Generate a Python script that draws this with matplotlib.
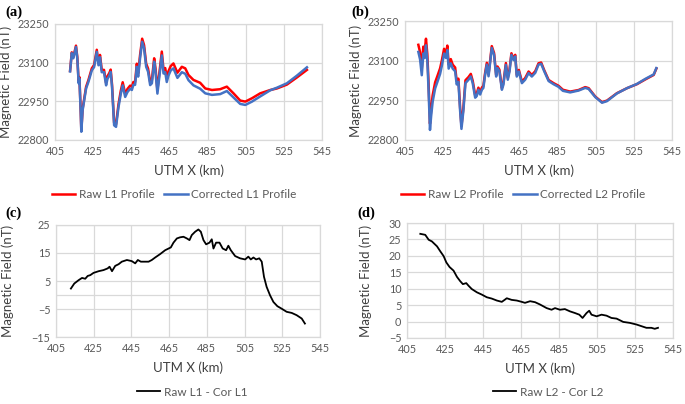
import matplotlib
matplotlib.use("Agg")
import matplotlib.pyplot as plt
from matplotlib.lines import Line2D

# ---------------- data ----------------
x_a = [412.9, 413.8, 414.6, 416.0, 416.7, 417.4, 417.8, 418.5, 418.8, 419.5, 421.3, 422.5, 424.3, 425.5,
       426.9, 427.8, 428.6, 429.5, 430.7, 431.8, 432.5, 433.5, 434.2, 434.9, 436.0, 437.0, 438.3, 439.5,
       440.5, 441.8, 443.0, 444.4, 445.3, 446.1, 447.0, 447.9, 448.6, 449.6, 450.7, 451.7, 452.8, 453.8,
       454.9, 455.8, 457.0, 457.7, 458.7, 459.8, 461.0, 461.9, 462.8, 463.6, 464.5, 465.7, 467.1, 469.2,
       471.5, 473.3, 475.0, 477.6, 481.1, 483.8, 487.3, 491.6, 495.1, 498.6, 502.1, 504.8, 508.3, 512.6,
       517.9, 521.4, 526.6, 531.9, 537.1]
raw_l1 = [23068, 23140, 23121, 23166, 23121, 23025, 23044, 22908, 22838, 22922, 23006, 23032, 23078, 23091,
          23150, 23098, 23130, 23072, 23072, 23021, 23047, 23060, 23073, 23015, 22867, 22861, 22939, 22991,
          23024, 22979, 22998, 23011, 23006, 23025, 23025, 23096, 23058, 23129, 23193, 23168, 23096, 23077,
          23025, 23032, 23117, 23078, 22994, 23065, 23143, 23073, 23079, 23041, 23067, 23087, 23097, 23061,
          23084, 23078, 23052, 23033, 23022, 23000, 22994, 22997, 23007, 22981, 22953, 22949, 22962, 22981,
          22994, 23000, 23015, 23043, 23072]
cor_l1 = [23066, 23137, 23117, 23161, 23116, 23020, 23038, 22902, 22832, 22916, 23000, 23025, 23070, 23083,
          23142, 23090, 23121, 23063, 23063, 23012, 23037, 23050, 23064, 23006, 22857, 22851, 22928, 22979,
          23012, 22967, 22986, 22999, 22994, 23014, 23014, 23084, 23046, 23117, 23181, 23156, 23084, 23065,
          23013, 23020, 23104, 23065, 22980, 23051, 23128, 23058, 23063, 23025, 23050, 23070, 23078, 23041,
          23063, 23057, 23032, 23012, 22999, 22981, 22975, 22978, 22990, 22965, 22940, 22936, 22949, 22969,
          22993, 23003, 23020, 23050, 23082]

x_b = [412.0, 412.9, 413.8, 414.6, 415.3, 416.0, 416.7, 417.3, 418.1, 418.7, 419.5, 420.8, 422.0, 423.4,
       424.3, 425.5, 426.5, 427.2, 427.9, 429.0, 430.0, 431.3, 432.1, 433.0, 433.9, 434.6, 435.6, 436.7,
       438.3, 439.5, 440.5, 441.8, 442.6, 443.5, 444.4, 445.3, 446.1, 447.0, 447.9, 448.8, 449.6, 450.5,
       451.7, 452.8, 453.5, 454.5, 455.8, 456.6, 457.9, 458.9, 459.8, 460.8, 461.9, 462.8, 463.6, 464.7,
       466.3, 468.0, 469.8, 471.5, 473.3, 475.0, 476.4, 478.0, 480.3, 482.9, 485.5, 487.8, 491.6, 496.0,
       499.5, 501.3, 504.8, 508.3, 510.9, 516.1, 521.4, 526.6, 531.0, 535.4, 536.8]
raw_l2 = [23160, 23132, 23071, 23153, 23136, 23183, 23125, 23025, 22862, 22914, 22969, 23018, 23042, 23071,
          23100, 23145, 23127, 23157, 23086, 23106, 23085, 23074, 23023, 23032, 22922, 22853, 22921, 23026,
          23038, 23050, 23024, 22969, 22975, 22998, 22980, 22998, 23005, 23053, 23092, 23048, 23097, 23155,
          23129, 23046, 23078, 23066, 22996, 23016, 23091, 23035, 23066, 23128, 23108, 23122, 23046, 23065,
          23021, 23034, 23059, 23046, 23060, 23090, 23093, 23064, 23027, 23015, 23005, 22990, 22983, 22989,
          23000, 22996, 22964, 22943, 22949, 22977, 22996, 23011, 23029, 23046, 23070]
cor_l2 = [23133, 23105, 23045, 23127, 23110, 23158, 23100, 23000, 22838, 22890, 22945, 22995, 23020, 23050,
          23080, 23127, 23110, 23140, 23070, 23090, 23070, 23060, 23010, 23020, 22910, 22842, 22910, 23015,
          23028, 23040, 23015, 22960, 22966, 22990, 22972, 22990, 22997, 23046, 23085, 23041, 23090, 23148,
          23122, 23040, 23072, 23060, 22990, 23009, 23084, 23028, 23059, 23122, 23102, 23116, 23040, 23059,
          23015, 23028, 23053, 23040, 23054, 23085, 23088, 23060, 23023, 23011, 23001, 22986, 22980, 22987,
          22997, 22993, 22962, 22941, 22947, 22976, 22996, 23012, 23031, 23048, 23072]

x_c = [412.9, 414.7, 417.0, 418.8, 420.5, 421.8, 423.2, 424.9, 427.6, 430.2, 432.4, 433.4, 434.7, 436.4,
       438.2, 439.9, 442.6, 445.2, 447.0, 448.4, 450.0, 452.3, 454.1, 455.8, 457.6, 460.2, 462.9, 464.7,
       465.9, 467.3, 469.1, 470.8, 472.6, 474.4, 475.8, 477.0, 478.8, 480.5, 481.8, 483.2, 484.6, 486.4,
       487.6, 488.5, 489.9, 491.7, 493.4, 495.2, 496.4, 497.7, 500.0, 502.6, 505.3, 507.0, 508.3, 509.7,
       511.1, 512.8, 514.1, 515.3, 516.7, 518.5, 520.3, 522.4, 524.7, 527.3, 530.0, 532.6, 535.3, 537.0]
diff_l1 = [2.3, 4.1, 5.3, 6.1, 5.8, 6.8, 7.1, 7.9, 8.5, 8.9, 9.5, 10.1, 8.5, 10.4,
           11.0, 11.9, 12.5, 12.1, 11.3, 12.5, 11.9, 11.9, 11.9, 12.5, 13.4, 14.6, 16.0, 16.6,
           17.0, 18.7, 20.2, 20.6, 20.8, 20.2, 19.6, 21.4, 22.6, 23.4, 22.6, 19.6, 18.1, 18.7,
           19.9, 16.6, 18.7, 18.7, 16.6, 16.0, 17.6, 16.0, 13.9, 13.1, 12.7, 13.7, 12.7, 13.4,
           12.7, 13.1, 11.9, 6.5, 2.9, -0.1, -2.5, -4.0, -4.9, -6.0, -6.4, -7.2, -8.4, -10.2]

x_d = [412.0, 414.6, 416.4, 418.1, 420.8, 422.5, 424.3, 425.7, 427.4, 429.5, 431.3, 433.0, 434.4, 436.2,
       437.4, 439.1, 441.8, 444.4, 447.0, 449.6, 452.3, 454.9, 456.6, 457.5, 460.1, 462.8, 465.4, 467.1,
       469.8, 472.4, 475.0, 478.5, 481.1, 482.9, 485.5, 488.1, 490.8, 493.4, 495.7, 497.4, 499.5, 500.9,
       502.1, 504.8, 507.4, 510.0, 512.6, 515.3, 518.8, 522.3, 525.8, 528.4, 531.0, 533.6, 535.4, 537.1]
diff_l2 = [26.7, 26.4, 24.9, 24.4, 22.9, 21.4, 19.9, 18.0, 16.6, 15.5, 13.6, 12.3, 11.4, 11.7,
           10.9, 9.9, 8.9, 8.2, 7.4, 7.0, 6.4, 6.0, 6.7, 7.1, 6.6, 6.4, 6.0, 5.7,
           6.2, 5.9, 5.2, 4.1, 3.6, 4.1, 3.6, 3.8, 3.1, 2.6, 2.1, 1.1, 2.6, 3.3,
           2.1, 1.6, 2.1, 1.8, 1.1, 0.9, -0.1, -0.4, -0.9, -1.4, -1.9, -1.9, -2.2, -1.9]

x_ticks = [405, 425, 445, 465, 485, 505, 525, 545]
yt_a = [22800, 22950, 23100, 23250]
yt_c = [-15, -5, 5, 15, 25]
yt_d = [-5, 0, 5, 10, 15, 20, 25, 30]

# ---------------- style ----------------
plt.rcParams['font.family'] = ['Lato', 'DejaVu Sans']
RED = '#FF0000'
BLUE = '#4472C4'
GRID = '#D9D9D9'
TXT = '#595959'
LAB = '#404040'
LW = 1.8

W, H = 685, 404
fig = plt.figure(figsize=(W / 100, H / 100), dpi=100)


def px_axes(l, t, r, b):
    return fig.add_axes([l / W, 1 - b / H, (r - l) / W, (b - t) / H])


def style(ax, yticks, ylim):
    ax.set_xlim(405, 545)
    ax.set_ylim(*ylim)
    ax.set_xticks(x_ticks)
    ax.set_yticks(yticks)
    ax.grid(True, color=GRID, lw=0.9)
    ax.set_axisbelow(True)
    for s in ax.spines.values():
        s.set_color(GRID)
        s.set_linewidth(0.9)
    ax.tick_params(length=0, labelsize=7.8, labelcolor=TXT, pad=4)
    ax.set_xlabel('UTM X (km)', fontsize=9.5, color=LAB, labelpad=6)
    ax.set_ylabel('Magnetic Field (nT)', fontsize=9.5, color=LAB)
    ax.yaxis.set_label_coords(-0.16, 0.5)


ax_a = px_axes(55, 24, 322, 140)
ax_b = px_axes(405, 21, 672, 140)
ax_c = px_axes(56, 225, 320, 337)
ax_d = px_axes(407, 223, 673, 338)

ax_a.plot(x_a, raw_l1, color=RED, lw=LW)
ax_a.plot(x_a, cor_l1, color=BLUE, lw=LW)
style(ax_a, yt_a, (22800, 23250))

ax_b.plot(x_b, raw_l2, color=RED, lw=LW)
ax_b.plot(x_b, cor_l2, color=BLUE, lw=LW)
style(ax_b, yt_a, (22800, 23250))

ax_c.axhline(0, color=GRID, lw=0.9, zorder=0)
ax_c.plot(x_c, diff_l1, color='black', lw=1.3)
style(ax_c, yt_c, (-15, 25))

ax_d.plot(x_d, diff_l2, color='black', lw=1.3)
style(ax_d, yt_d, (-5, 30))
ax_d.yaxis.set_label_coords(-0.13, 0.5)

# legends
leg_kw = dict(frameon=False, fontsize=8.5, handlelength=2.0, handletextpad=0.3,
              columnspacing=0.8, labelcolor=TXT, loc='center')
fig.legend([Line2D([], [], color=RED, lw=LW), Line2D([], [], color=BLUE, lw=LW)],
           ['Raw L1 Profile', 'Corrected L1 Profile'], ncol=2,
           bbox_to_anchor=(174 / W, 1 - 195 / H), **leg_kw)
fig.legend([Line2D([], [], color=RED, lw=LW), Line2D([], [], color=BLUE, lw=LW)],
           ['Raw L2 Profile', 'Corrected L2 Profile'], ncol=2,
           bbox_to_anchor=(523 / W, 1 - 195 / H), **leg_kw)
fig.legend([Line2D([], [], color='black', lw=1.3)], ['Raw L1 - Cor L1'],
           bbox_to_anchor=(192 / W, 1 - 392 / H), **leg_kw)
fig.legend([Line2D([], [], color='black', lw=1.3)], ['Raw L2 - Cor L2'],
           bbox_to_anchor=(548 / W, 1 - 392 / H), **leg_kw)

# panel letters
for lbl, x, y in [('(a)', 5, 12), ('(b)', 351, 12), ('(c)', 5, 213), ('(d)', 357, 213)]:
    fig.text(x / W, 1 - y / H, lbl, fontsize=10.5, fontweight='bold',
             family=['Liberation Serif', 'DejaVu Serif'], va='center', ha='left')

fig.savefig('out.png', dpi=100)
